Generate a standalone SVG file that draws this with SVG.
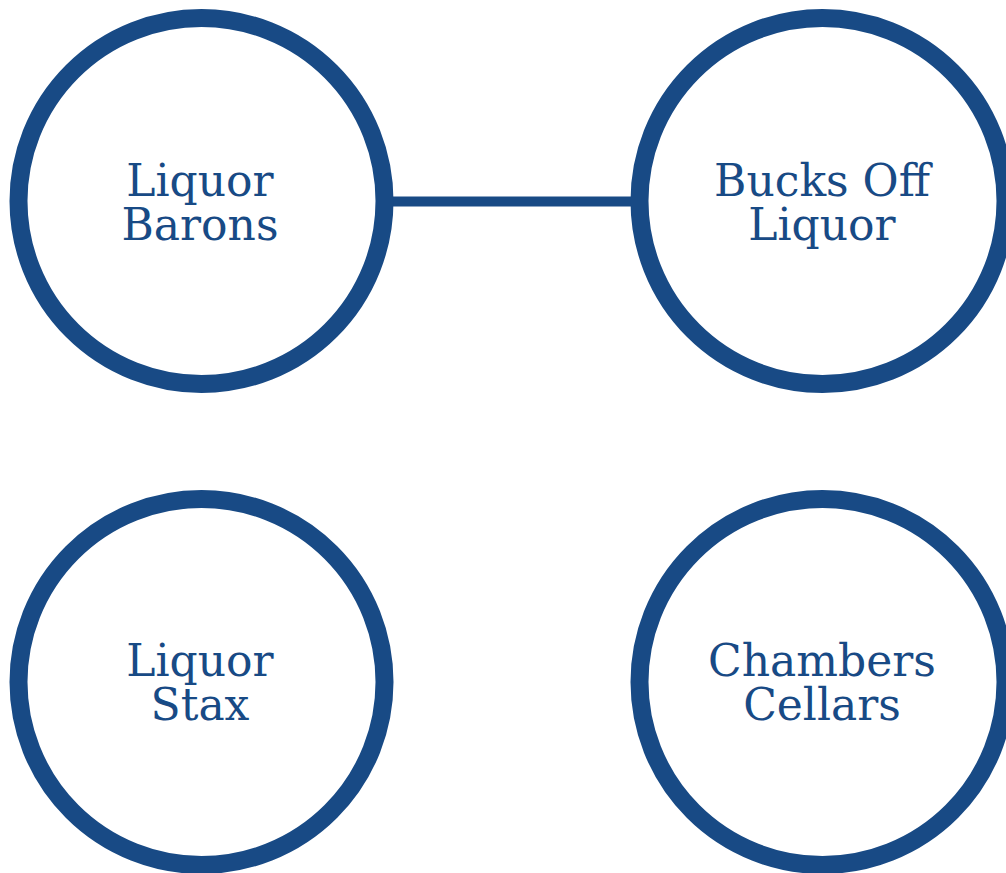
<svg xmlns="http://www.w3.org/2000/svg" width="1006" height="873" viewBox="0 0 1006 873">
<style>
.node circle{fill:#fff;stroke:#184a85;stroke-width:18}
.node text{font-family:"DejaVu Serif","Liberation Serif",serif;font-size:44px;fill:#184a85;text-anchor:middle}
.edge{stroke:#184a85;stroke-width:10;fill:none}
</style>
<rect width="1006" height="873" fill="#fff"/>
<g id="connectors">
<line class="edge" x1="392" y1="201.5" x2="632" y2="201.5"/>
</g>
<g id="liquor-barons" class="node">
<circle cx="201.5" cy="201" r="183"/>
<text x="200" y="196">Liquor</text>
<text x="200" y="240">Barons</text>
</g>
<g id="bucks-off-liquor" class="node">
<circle cx="822.5" cy="201" r="183"/>
<text x="822" y="196">Bucks Off</text>
<text x="822" y="240">Liquor</text>
</g>
<g id="liquor-stax" class="node">
<circle cx="201.5" cy="682" r="183"/>
<text x="200" y="676">Liquor</text>
<text x="200" y="720">Stax</text>
</g>
<g id="chambers-cellars" class="node">
<circle cx="822.5" cy="682" r="183"/>
<text x="822" y="676">Chambers</text>
<text x="822" y="720">Cellars</text>
</g>
</svg>
